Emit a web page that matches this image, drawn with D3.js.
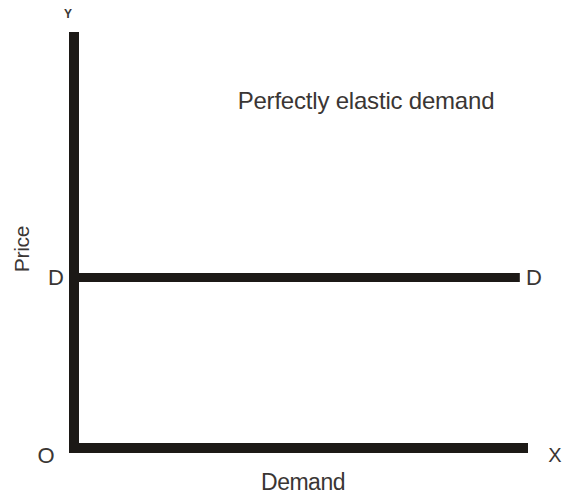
<!DOCTYPE html>
<html lang="en">
<head>
<meta charset="utf-8" />
<title>Perfectly elastic demand</title>
<style>
	* {margin: 0; padding: 0;}
	body {background: #fff;}
	text {font-family: "Liberation Sans", Helvetica, Arial, sans-serif; fill: #3a3634;}
</style>
</head>
<body>
<div id="viz"></div>
<script src="https://cdn.jsdelivr.net/npm/d3@7"></script>
<script>
// chart values
var demandQty = [0, 9.82];
var demandPrice = [4.1, 4.1];
var curveLabels = ["D", "D"];
var axisLabels = ["Price", "Demand"];
var originLabel = "O";
var axisEnds = ["X", "Y"];
var title = "Perfectly elastic demand";

var w = 563, h = 499;
var svg = d3.select("#viz").append("svg").attr("width", w).attr("height", h);

var x = d3.scaleLinear().domain([0, 10]).range([74, 528]);
var y = d3.scaleLinear().domain([0, 10]).range([448, 32]);

var ink = "#1c1916";

// axes: plain thick lines, no ticks
svg.append("line")
	.attr("x1", x(0)).attr("x2", x(0))
	.attr("y1", y(10)).attr("y2", y(0) + 5)
	.style("stroke", ink).style("stroke-width", 10);
svg.append("line")
	.attr("x1", x(0) - 5).attr("x2", x(10))
	.attr("y1", y(0)).attr("y2", y(0))
	.style("stroke", ink).style("stroke-width", 10);

// demand curve
var line = d3.line()
	.x(function(d){return x(d[0]);})
	.y(function(d){return y(d[1]);});
svg.append("path")
	.datum(d3.zip(demandQty, demandPrice))
	.attr("d", line)
	.style("fill", "none")
	.style("stroke", ink)
	.style("stroke-width", 9);

// D labels at both ends of the curve
svg.append("text")
	.attr("x", x(demandQty[0]) - 18).attr("y", y(demandPrice[0]))
	.attr("dy", "0.36em").attr("text-anchor", "middle")
	.style("font-size", "22px").text(curveLabels[0]);
svg.append("text")
	.attr("x", x(demandQty[1]) + 14).attr("y", y(demandPrice[1]))
	.attr("dy", "0.36em").attr("text-anchor", "middle")
	.style("font-size", "22px").text(curveLabels[1]);

// origin and axis end letters
svg.append("text")
	.attr("x", 46).attr("y", y(0) + 7)
	.attr("dy", "0.36em").attr("text-anchor", "middle")
	.style("font-size", "22px").text(originLabel);
svg.append("text")
	.attr("x", 555).attr("y", y(0) + 7)
	.attr("dy", "0.36em").attr("text-anchor", "middle")
	.style("font-size", "20px").text(axisEnds[0]);
svg.append("text")
	.attr("x", 68).attr("y", 14)
	.attr("dy", "0.36em").attr("text-anchor", "middle")
	.style("font-size", "12px").style("font-weight", "bold").text(axisEnds[1]);

// axis titles
svg.append("text")
	.attr("transform", "translate(21,249) rotate(-90)")
	.attr("dy", "0.36em").attr("text-anchor", "middle")
	.style("font-size", "21px").style("letter-spacing", "-0.3px")
	.text(axisLabels[0]);
svg.append("text")
	.attr("x", 303).attr("y", 482)
	.attr("dy", "0.36em").attr("text-anchor", "middle")
	.style("font-size", "23px").style("letter-spacing", "-0.5px")
	.text(axisLabels[1]);

// chart title
svg.append("text")
	.attr("x", 366).attr("y", 100)
	.attr("dy", "0.36em").attr("text-anchor", "middle")
	.style("font-size", "24px").style("letter-spacing", "-0.2px")
	.text(title);
</script>
</body>
</html>
